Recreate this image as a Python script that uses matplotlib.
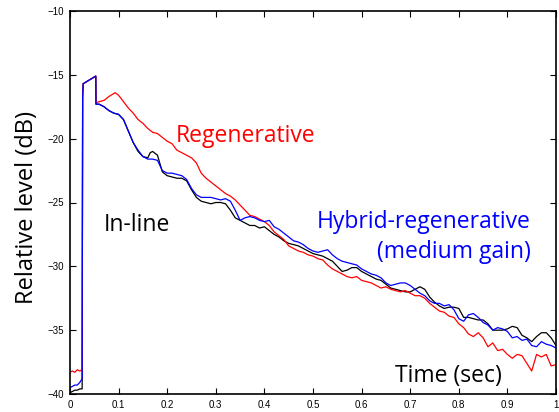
import matplotlib
matplotlib.use("Agg")
import matplotlib.pyplot as plt

# ---------------- data ----------------
t_start = [0.0, 0.005, 0.01, 0.015, 0.02, 0.025, 0.026, 0.027, 0.053, 0.0535]
red_start = [-38.3, -38.2, -38.3, -38.1, -38.2, -38.1, -16.8, -15.7, -15.1, -17.2]
blue_start = [-39.5, -39.4, -39.3, -39.3, -39.1, -38.8, -16.8, -15.7, -15.1, -17.3]
black_start = [-39.9, -39.8, -39.7, -39.7, -39.6, -39.6, -16.8, -15.7, -15.1, -17.3]

t_red = [0.06, 0.07, 0.08, 0.093, 0.10, 0.11, 0.12, 0.13, 0.14, 0.15, 0.16, 0.17, 0.18, 0.19,
         0.20, 0.21, 0.22, 0.23, 0.24, 0.25, 0.26, 0.27, 0.28, 0.29, 0.30, 0.31, 0.32, 0.33,
         0.34, 0.35, 0.36, 0.37, 0.38, 0.39, 0.40, 0.41, 0.42, 0.43, 0.44, 0.45, 0.46, 0.47,
         0.48, 0.49, 0.50, 0.51, 0.52, 0.53, 0.54, 0.55, 0.56, 0.57, 0.58, 0.59, 0.60, 0.61,
         0.62, 0.63, 0.64, 0.65, 0.66, 0.67, 0.68, 0.69, 0.70, 0.71, 0.72, 0.73, 0.74, 0.75,
         0.76, 0.77, 0.78, 0.79, 0.80, 0.81, 0.82, 0.83, 0.84, 0.85, 0.86, 0.87, 0.88, 0.89,
         0.90, 0.91, 0.92, 0.93, 0.94, 0.95, 0.96, 0.97, 0.98, 0.99, 1.00]
red_vals = [-17.1, -17.0, -16.7, -16.4, -16.6, -17.1, -17.6, -18.0, -18.5, -18.8, -19.2, -19.5,
            -19.6, -19.9, -20.2, -20.4, -20.9, -21.1, -21.3, -21.5, -21.9, -22.7, -23.1, -23.4,
            -23.7, -24.0, -24.3, -24.5, -24.8, -25.2, -25.6, -26.0, -26.1, -26.3, -26.5, -26.8,
            -27.3, -27.6, -27.9, -28.4, -28.6, -28.8, -28.9, -29.1, -29.2, -29.4, -29.5, -29.9,
            -30.2, -30.4, -30.6, -30.8, -30.9, -30.8, -31.1, -31.2, -31.3, -31.5, -31.7, -31.6,
            -31.8, -31.9, -32.0, -31.9, -32.1, -32.3, -32.3, -32.5, -32.9, -33.2, -33.5, -33.6,
            -33.9, -34.0, -34.5, -34.8, -35.3, -35.5, -35.2, -35.6, -36.3, -36.0, -36.6, -36.5,
            -36.9, -37.2, -36.9, -37.0, -37.6, -38.2, -36.9, -37.1, -36.9, -37.8, -37.7]

t_blue = [0.06, 0.07, 0.08, 0.09, 0.10, 0.11, 0.12, 0.13, 0.14, 0.15, 0.16, 0.17, 0.18, 0.19,
          0.20, 0.21, 0.22, 0.23, 0.24, 0.25, 0.26, 0.27, 0.28, 0.29, 0.30, 0.31, 0.32, 0.33,
          0.34, 0.35, 0.36, 0.37, 0.38, 0.39, 0.40, 0.41, 0.42, 0.43, 0.44, 0.45, 0.46, 0.47,
          0.48, 0.49, 0.50, 0.51, 0.52, 0.53, 0.54, 0.55, 0.56, 0.57, 0.58, 0.59, 0.60, 0.61,
          0.62, 0.63, 0.64, 0.65, 0.66, 0.67, 0.68, 0.69, 0.70, 0.71, 0.72, 0.73, 0.74, 0.75,
          0.76, 0.77, 0.78, 0.79, 0.80, 0.81, 0.82, 0.83, 0.84, 0.85, 0.86, 0.87, 0.88, 0.89,
          0.90, 0.91, 0.92, 0.93, 0.94, 0.95, 0.96, 0.97, 0.98, 0.99, 1.00]
blue_vals = [-17.3, -17.5, -17.8, -18.0, -18.1, -18.5, -19.4, -20.3, -20.9, -21.4, -21.6, -21.6,
             -21.7, -22.5, -22.7, -22.7, -22.8, -22.9, -23.2, -23.9, -24.4, -24.6, -24.6, -24.6,
             -24.7, -24.8, -24.7, -24.9, -25.6, -26.4, -26.2, -26.1, -26.2, -26.4, -26.5, -26.4,
             -26.9, -27.1, -27.4, -27.7, -28.0, -28.1, -28.3, -28.6, -28.8, -28.9, -28.8, -28.7,
             -29.1, -29.4, -29.6, -29.7, -29.8, -29.9, -30.2, -30.4, -30.6, -30.7, -30.9, -31.3,
             -31.5, -31.4, -31.3, -31.3, -31.5, -31.8, -32.1, -32.3, -32.7, -32.9, -32.9, -33.1,
             -33.0, -33.4, -34.1, -34.3, -33.8, -33.7, -34.0, -34.4, -34.6, -35.0, -34.8, -34.9,
             -35.1, -35.6, -35.5, -35.8, -35.7, -36.2, -36.3, -35.9, -36.1, -36.2, -36.4]

t_black = [0.06, 0.07, 0.08, 0.09, 0.10, 0.11, 0.12, 0.13, 0.14, 0.15, 0.16, 0.165, 0.17, 0.18,
           0.19, 0.20, 0.21, 0.22, 0.23, 0.24, 0.25, 0.26, 0.27, 0.28, 0.29, 0.30, 0.31, 0.32,
           0.33, 0.34, 0.35, 0.36, 0.37, 0.38, 0.39, 0.40, 0.41, 0.42, 0.43, 0.44, 0.45, 0.46,
           0.47, 0.48, 0.49, 0.50, 0.51, 0.52, 0.53, 0.54, 0.55, 0.56, 0.57, 0.58, 0.59, 0.60,
           0.61, 0.62, 0.63, 0.64, 0.65, 0.66, 0.67, 0.68, 0.69, 0.70, 0.71, 0.72, 0.73, 0.74,
           0.75, 0.76, 0.77, 0.78, 0.79, 0.80, 0.81, 0.82, 0.83, 0.84, 0.85, 0.86, 0.87, 0.88,
           0.89, 0.90, 0.91, 0.92, 0.93, 0.94, 0.95, 0.96, 0.97, 0.98, 0.99, 1.00]
black_vals = [-17.3, -17.5, -17.8, -18.0, -18.1, -18.5, -19.4, -20.3, -21.0, -21.4, -21.5, -21.1,
              -21.0, -21.3, -22.6, -22.9, -23.0, -23.1, -23.1, -23.3, -24.0, -24.6, -24.9, -25.0,
              -25.1, -25.0, -25.0, -25.1, -25.6, -26.2, -26.4, -26.6, -26.8, -26.8, -27.0, -26.9,
              -27.2, -27.5, -27.7, -28.0, -28.2, -28.3, -28.4, -28.6, -28.8, -29.0, -29.1, -29.2,
              -29.4, -29.6, -30.0, -30.4, -30.3, -30.1, -30.1, -30.4, -30.6, -30.8, -31.0, -31.1,
              -31.4, -31.7, -31.8, -31.9, -32.0, -32.0, -31.8, -31.6, -31.8, -32.4, -32.8, -33.1,
              -33.3, -33.2, -33.2, -33.3, -34.0, -34.0, -34.1, -34.2, -34.2, -34.5, -35.0, -35.0,
              -35.0, -34.9, -34.7, -34.8, -35.4, -35.6, -35.9, -35.5, -35.2, -35.2, -35.6, -36.2]

x_ticks = [0, 0.1, 0.2, 0.3, 0.4, 0.5, 0.6, 0.7, 0.8, 0.9, 1]
x_ticklabels = ["0", "0.1", "0.2", "0.3", "0.4", "0.5", "0.6", "0.7", "0.8", "0.9", "1"]
y_ticks = [-40, -35, -30, -25, -20, -15, -10]
y_ticklabels = ["\u221240", "\u221235", "\u221230", "\u221225", "\u221220", "\u221215", "\u221210"]

# ---------------- figure ----------------
W, H = 559, 412
fig = plt.figure(figsize=(W / 100, H / 100), dpi=100)
ax = fig.add_axes([70 / W, 1 - 394 / H, (556 - 70) / W, (394 - 11) / H])

ax.plot(t_start + t_black, black_start + black_vals, color="black", lw=0.9)
ax.plot(t_start + t_red, red_start + red_vals, color="#ff0000", lw=0.9)
ax.plot(t_start + t_blue, blue_start + blue_vals, color="#0000ff", lw=0.9)

ax.set_xlim(0, 1)
ax.set_ylim(-40, -10)
ax.set_xticks(x_ticks)
ax.set_xticklabels(x_ticklabels)
ax.set_yticks(y_ticks)
ax.set_yticklabels(y_ticklabels)
ax.tick_params(direction="in", length=4, width=0.8, top=True, right=True,
               labelsize=7, pad=4)
for lab in ax.get_xticklabels() + ax.get_yticklabels():
    lab.set_family("Liberation Sans")
for sp in ax.spines.values():
    sp.set_linewidth(1.2)

txt_font = "Open Sans"
fs = 16.5
fig.text(27 / W, 1 - 207 / H, "Relative level (dB)", rotation=90, ha="center", va="center",
         fontsize=17, family=txt_font, color="black")
fig.text(246 / W, 1 - 142 / H, "Regenerative", ha="center", va="baseline",
         fontsize=fs, family=txt_font, color="#ff0000")
fig.text(137 / W, 1 - 231 / H, "In-line", ha="center", va="baseline",
         fontsize=fs, family=txt_font, color="black")
fig.text(531 / W, 1 - 228 / H, "Hybrid-regenerative", ha="right", va="baseline",
         fontsize=fs, family=txt_font, color="#0000ff")
fig.text(531 / W, 1 - 258 / H, "(medium gain)", ha="right", va="baseline",
         fontsize=fs, family=txt_font, color="#0000ff")
fig.text(448 / W, 1 - 382 / H, "Time (sec)", ha="center", va="baseline",
         fontsize=fs, family=txt_font, color="black")

fig.savefig("out.png", dpi=100)
